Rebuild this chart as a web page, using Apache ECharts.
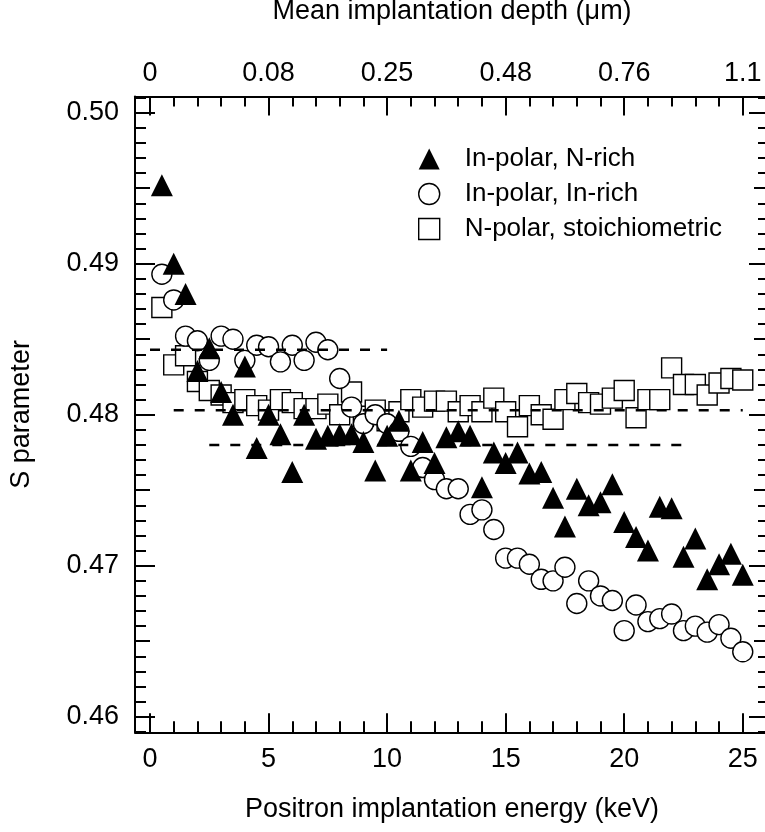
<!DOCTYPE html>
<html>
<head>
<meta charset="utf-8">
<script src="https://cdn.jsdelivr.net/npm/echarts@6/dist/echarts.min.js"></script>
<style>
  html, body { margin: 0; padding: 0; background: #fff; }
  #chart { width: 765px; height: 832px; }
</style>
</head>
<body>
<div id="chart"></div>
<script>
// Positron implantation energy (keV)
const energy = [
  0.5, 1.0, 1.5, 2.0, 2.5, 3.0, 3.5, 4.0, 4.5, 5.0,
  5.5, 6.0, 6.5, 7.0, 7.5, 8.0, 8.5, 9.0, 9.5, 10.0,
  10.5, 11.0, 11.5, 12.0, 12.5, 13.0, 13.5, 14.0, 14.5, 15.0,
  15.5, 16.0, 16.5, 17.0, 17.5, 18.0, 18.5, 19.0, 19.5, 20.0,
  20.5, 21.0, 21.5, 22.0, 22.5, 23.0, 23.5, 24.0, 24.5, 25.0
];

// S parameter, In-polar N-rich sample
const sInPolarNRich = [
  0.4952, 0.4900, 0.4880, 0.4829, 0.4844, 0.4815, 0.4800, 0.4832, 0.4778, 0.4800,
  0.4787, 0.4762, 0.4800, 0.4784, 0.4786, 0.4787, 0.4787, 0.4782, 0.4763, 0.4786,
  0.4796, 0.4763, 0.4782, 0.4768, 0.4785, 0.4789, 0.4786, 0.4752, 0.4775, 0.4768,
  0.4775, 0.4761, 0.4762, 0.4745, 0.4726, 0.4751, 0.4740, 0.4742, 0.4754, 0.4729,
  0.4719, 0.4710, 0.4739, 0.4738, 0.4706, 0.4718, 0.4691, 0.4701, 0.4708, 0.4694
];

// S parameter, In-polar In-rich sample
const sInPolarInRich = [
  0.4893, 0.4876, 0.4852, 0.4849, 0.4836, 0.4852, 0.4850, 0.4836, 0.4846, 0.4845,
  0.4835, 0.4846, 0.4836, 0.4848, 0.4843, 0.4824, 0.4805, 0.4794, 0.4800, 0.4794,
  0.4789, 0.4779, 0.4765, 0.4757, 0.4751, 0.4751, 0.4734, 0.4737, 0.4724, 0.4705,
  0.4705, 0.4701, 0.4691, 0.4690, 0.4699, 0.4675, 0.4690, 0.4680, 0.4677, 0.4657,
  0.4674, 0.4663, 0.4665, 0.4668, 0.4657, 0.4660, 0.4656, 0.4661, 0.4652, 0.4643
];

// S parameter, N-polar stoichiometric sample
const sNPolarStoich = [
  0.4871, 0.4833, 0.4839, 0.4822, 0.4816, 0.4813, 0.4808, 0.4810, 0.4806, 0.4803,
  0.4810, 0.4808, 0.4804, 0.4804, 0.4807, 0.4800, 0.4815, 0.4799, 0.4803, 0.4796,
  0.4802, 0.4810, 0.4805, 0.4809, 0.4809, 0.4802, 0.4806, 0.4802, 0.4811, 0.4802,
  0.4792, 0.4806, 0.4800, 0.4797, 0.4810, 0.4814, 0.4808, 0.4807, 0.4811, 0.4816,
  0.4798, 0.4810, 0.4810, 0.4831, 0.4820, 0.4820, 0.4813, 0.4821, 0.4824, 0.4823
];

// Dashed bulk levels: start energy, end energy, S value
const levelStart = [0, 1, 2.5];
const levelEnd = [10, 25, 22.5];
const levelS = [0.4843, 0.4803, 0.4780];

// Axis ticks and labels
const energyTicks = [0, 5, 10, 15, 20, 25];
const depthLabels = ['0', '0.08', '0.25', '0.48', '0.76', '1.1'];
const sTicks = [0.46, 0.47, 0.48, 0.49, 0.50];
const sMidTicks = [0.465, 0.475, 0.485, 0.495];

const energyMinor = [];
for (let e = 0; e <= 26; e++) energyMinor.push(e);
const sMinor = [];
for (let i = 459; i <= 501; i++) sMinor.push(i / 1000);

const FONT = "'Liberation Sans', Arial, Helvetica, sans-serif";
const FS = 27;
const X_MIN = -0.633, X_MAX = 26.107;
const Y_MIN = 0.45897, Y_MAX = 0.50107;

const pair = (ys) => energy.map((e, i) => [e, ys[i]]);

function xAxisDef(position, ticks, len, extra) {
  return Object.assign({
    type: 'value', position, min: X_MIN, max: X_MAX,
    axisLine: { show: false, onZero: false },
    axisTick: { show: true, inside: true, length: len, customValues: ticks,
                lineStyle: { color: '#000', width: 2 } },
    axisLabel: { show: false },
    splitLine: { show: false }
  }, extra || {});
}

function yAxisDef(position, ticks, len, extra) {
  return Object.assign({
    type: 'value', position, min: Y_MIN, max: Y_MAX,
    axisLine: { show: false, onZero: false },
    axisTick: { show: true, inside: true, length: len, customValues: ticks,
                lineStyle: { color: '#000', width: 2 } },
    axisLabel: { show: false },
    splitLine: { show: false }
  }, extra || {});
}

const axisLineOn = { show: true, onZero: false, lineStyle: { color: '#000', width: 2 } };
const textBase = { fontSize: FS, color: '#000', fontFamily: FONT };

const option = {
  backgroundColor: '#fff',
  animation: false,
  grid: { left: 135, top: 96.5, width: 634, height: 635.8,
          containLabel: false, outerBoundsMode: 'none' },
  xAxis: [
    xAxisDef('bottom', energyTicks, 19, {
      axisLine: axisLineOn,
      axisLabel: Object.assign({ show: true, customValues: energyTicks, margin: 13.5 }, textBase),
      name: 'Positron implantation energy (keV)', nameLocation: 'middle', nameGap: 64,
      nameTextStyle: textBase
    }),
    xAxisDef('bottom', energyMinor, 11),
    xAxisDef('top', energyTicks, 19, {
      axisLine: axisLineOn,
      axisLabel: Object.assign({ show: true, customValues: energyTicks, margin: 9,
                   formatter: (v) => depthLabels[energyTicks.indexOf(v)] }, textBase),
      name: 'Mean implantation depth (\u03bcm)', nameLocation: 'middle', nameGap: 71,
      nameTextStyle: textBase
    }),
    xAxisDef('top', energyMinor, 10)
  ],
  yAxis: [
    yAxisDef('left', sTicks, 20, {
      axisLine: axisLineOn,
      axisLabel: Object.assign({ show: true, customValues: sTicks, margin: 16,
                   formatter: (v) => v.toFixed(2) }, textBase),
      name: 'S parameter', nameLocation: 'middle', nameGap: 99.5, nameRotate: 90,
      nameTextStyle: textBase
    }),
    yAxisDef('left', sMidTicks, 15),
    yAxisDef('left', sMinor, 11),
    yAxisDef('right', sTicks, 20, { axisLine: axisLineOn }),
    yAxisDef('right', sMidTicks, 15),
    yAxisDef('right', sMinor, 11)
  ],
  legend: {
    orient: 'vertical', left: 413, top: 141, itemWidth: 21, itemHeight: 21, itemGap: 9,
    selectedMode: false,
    textStyle: { fontSize: 26, color: '#000', fontFamily: FONT, padding: [0, 0, 0, 20] },
    data: [
      { name: 'In-polar, N-rich', icon: 'triangle', itemStyle: { color: '#000', borderWidth: 0 } },
      { name: 'In-polar, In-rich', icon: 'circle', itemStyle: { color: '#fff', borderColor: '#000', borderWidth: 1.4 } },
      { name: 'N-polar, stoichiometric', icon: 'rect', itemStyle: { color: '#fff', borderColor: '#000', borderWidth: 1.4 } }
    ]
  },
  series: [
    {
      name: 'N-polar, stoichiometric', type: 'scatter', symbol: 'rect', symbolSize: 20,
      itemStyle: { color: '#fff', borderColor: '#000', borderWidth: 1.4, opacity: 1 },
      emphasis: { disabled: true }, data: pair(sNPolarStoich), z: 2
    },
    {
      name: 'In-polar, In-rich', type: 'scatter', symbol: 'circle', symbolSize: 20,
      itemStyle: { color: '#fff', borderColor: '#000', borderWidth: 1.4, opacity: 1 },
      emphasis: { disabled: true }, data: pair(sInPolarInRich), z: 3
    },
    {
      name: 'In-polar, N-rich', type: 'scatter', symbol: 'triangle', symbolSize: 22,
      itemStyle: { color: '#000', opacity: 1 },
      emphasis: { disabled: true }, data: pair(sInPolarNRich), z: 4
    }
  ].concat(levelS.map((s, i) => ({
    type: 'line', silent: true, symbol: 'none', z: 5,
    lineStyle: { color: '#000', width: 2.5, type: [10, 11] },
    data: [[levelStart[i], s], [levelEnd[i], s]]
  })))
};

echarts.init(document.getElementById('chart'), null, { renderer: 'canvas' }).setOption(option);
</script>
</body>
</html>
